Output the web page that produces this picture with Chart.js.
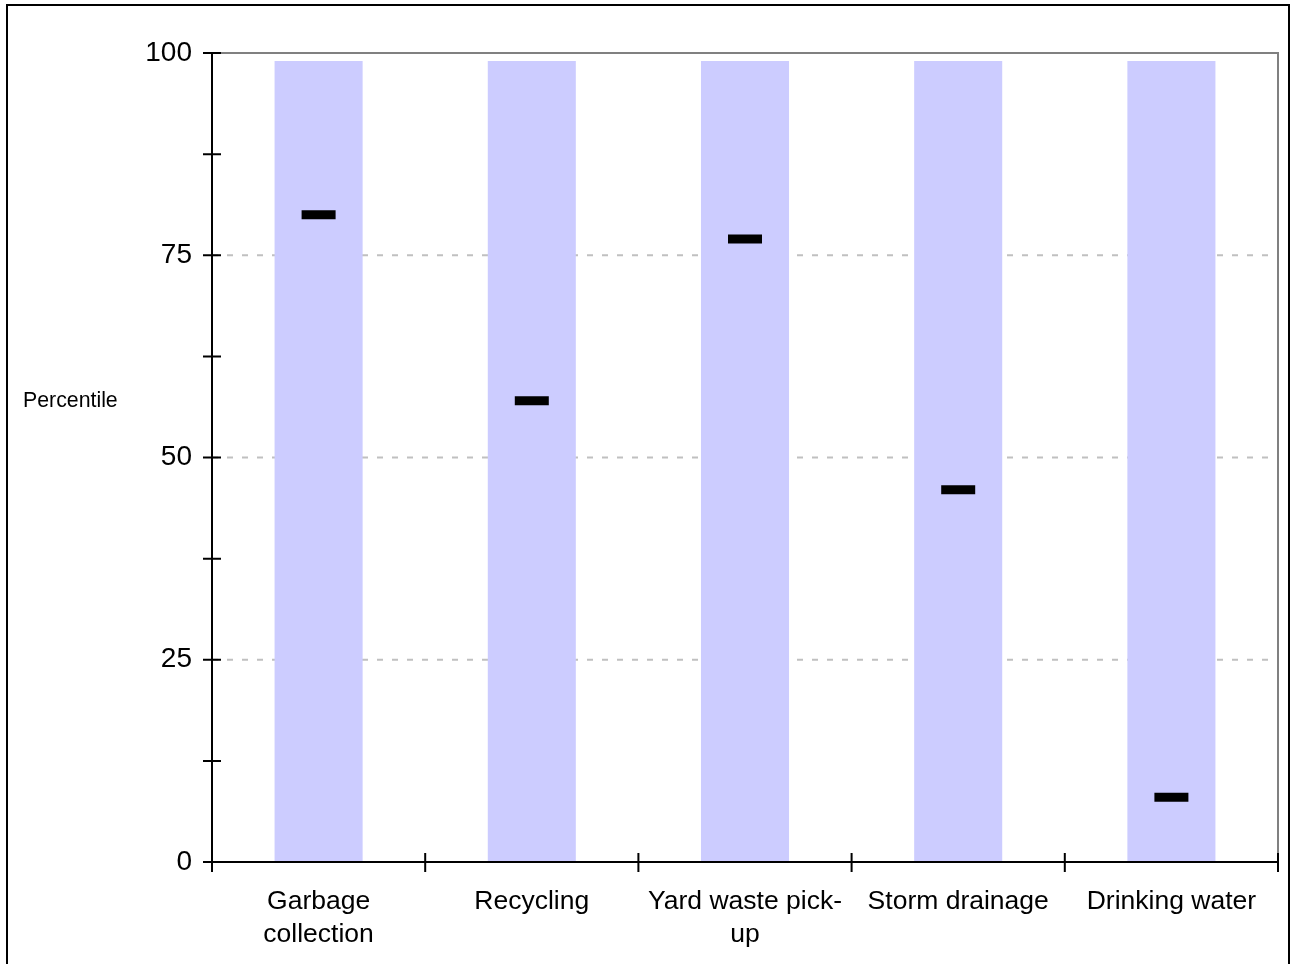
<!DOCTYPE html>
<html>
<head>
<meta charset="utf-8">
<script src="https://cdn.jsdelivr.net/npm/chart.js@4"></script>
<style>
    body { margin: 0; width: 1291px; height: 964px; overflow: hidden; background: #fff; font-family: "Liberation Sans", Arial, sans-serif; }
    #frame { position: absolute; left: 6px; top: 4px; width: 1280px; height: 1000px; border: 2px solid #000; }
    #wrap { position: absolute; left: 0; top: 0; width: 1291px; height: 964px; }
    #ytitle { position: absolute; left: 23px; top: 387px; font-size: 21.3px; line-height: 26px; color: #000; }
</style>
</head>
<body>
<div id="frame"></div>
<div id="wrap"><canvas id="chart" width="1291" height="964"></canvas></div>
<div id="ytitle">Percentile</div>
<script>
// Chart data
const categories = [['Garbage', 'collection'], 'Recycling', ['Yard waste pick-', 'up'], 'Storm drainage', 'Drinking water'];
const rangeTop = [99, 99, 99, 99, 99];
const percentiles = [80, 57, 77, 46, 8];
const yMajorTicks = [0, 25, 50, 75, 100];

// Dashed grid lines behind the bars
const gridLines = {
    id: 'gridLines',
    beforeDatasetsDraw(chart) {
        const { ctx, chartArea: a, scales: { y } } = chart;
        ctx.save();
        ctx.strokeStyle = '#c0c0c0';
        ctx.lineWidth = 2;
        ctx.setLineDash([6, 9]);
        yMajorTicks.forEach(v => {
            if (v === 0) return;
            const py = y.getPixelForValue(v);
            ctx.beginPath();
            ctx.moveTo(a.left, py);
            ctx.lineTo(a.right, py);
            ctx.stroke();
        });
        ctx.restore();
    }
};

// Axes, frame and crossing tick marks
const axisLines = {
    id: 'axisLines',
    afterDatasetsDraw(chart) {
        const { ctx, chartArea: a, scales: { x, y } } = chart;
        ctx.save();
        ctx.lineWidth = 2;
        ctx.strokeStyle = '#808080';
        ctx.beginPath();
        ctx.moveTo(a.left, a.top);
        ctx.lineTo(a.right, a.top);
        ctx.lineTo(a.right, a.bottom);
        ctx.stroke();

        ctx.strokeStyle = '#000';
        ctx.beginPath();
        ctx.moveTo(a.left, a.top);
        ctx.lineTo(a.left, a.bottom);
        ctx.lineTo(a.right, a.bottom);
        ctx.stroke();

        ctx.beginPath();
        y.ticks.forEach(t => {
            const py = y.getPixelForValue(t.value);
            ctx.moveTo(a.left - 9, py);
            ctx.lineTo(a.left + 9, py);
        });
        const step = x.width / categories.length;
        for (let i = 0; i <= categories.length; i++) {
            const px = x.left + i * step;
            ctx.moveTo(px, a.bottom - 9);
            ctx.lineTo(px, a.bottom + 10);
        }
        ctx.stroke();
        ctx.restore();
    }
};

const ctx = document.getElementById('chart').getContext('2d');
const chart = new Chart(ctx, {
    type: 'bar',
    data: {
        labels: categories,
        datasets: [{
            label: 'Range',
            data: rangeTop,
            backgroundColor: '#ccccff',
            borderWidth: 0,
            categoryPercentage: 1,
            barPercentage: 0.413,
            order: 2
        }, {
            type: 'line',
            label: 'Percentile',
            data: percentiles,
            showLine: false,
            pointStyle: 'line',
            pointRadius: 17,
            pointHoverRadius: 17,
            pointBorderWidth: 9,
            pointHoverBorderWidth: 9,
            pointBorderColor: '#000',
            borderColor: '#000',
            order: 1
        }]
    },
    options: {
        responsive: false,
        animation: false,
        layout: { autoPadding: false, padding: { top: 53, right: 13, left: 0, bottom: 0 } },
        plugins: {
            legend: { display: false },
            tooltip: { enabled: false }
        },
        scales: {
            x: {
                offset: true,
                grid: { display: false, drawTicks: false },
                border: { display: false },
                ticks: {
                    color: '#000',
                    padding: 23,
                    maxRotation: 0,
                    autoSkip: false,
                    font: { family: '"Liberation Sans", Arial, sans-serif', size: 26.5, lineHeight: 1.245 }
                },
                afterFit(scale) {
                    scale.height = 102;
                    scale.paddingLeft = 0;
                    scale.paddingRight = 0;
                }
            },
            y: {
                min: 0,
                max: 100,
                grid: { display: false, drawTicks: false },
                border: { display: false },
                ticks: {
                    stepSize: 12.5,
                    autoSkip: false,
                    color: '#000',
                    padding: 20,
                    font: { family: '"Liberation Sans", Arial, sans-serif', size: 28 },
                    callback: v => (v % 25 === 0 ? v : '')
                },
                afterFit(scale) {
                    scale.width = 212;
                    scale.paddingTop = 0;
                    scale.paddingBottom = 0;
                }
            }
        }
    },
    plugins: [gridLines, axisLines]
});
</script>
</body>
</html>
